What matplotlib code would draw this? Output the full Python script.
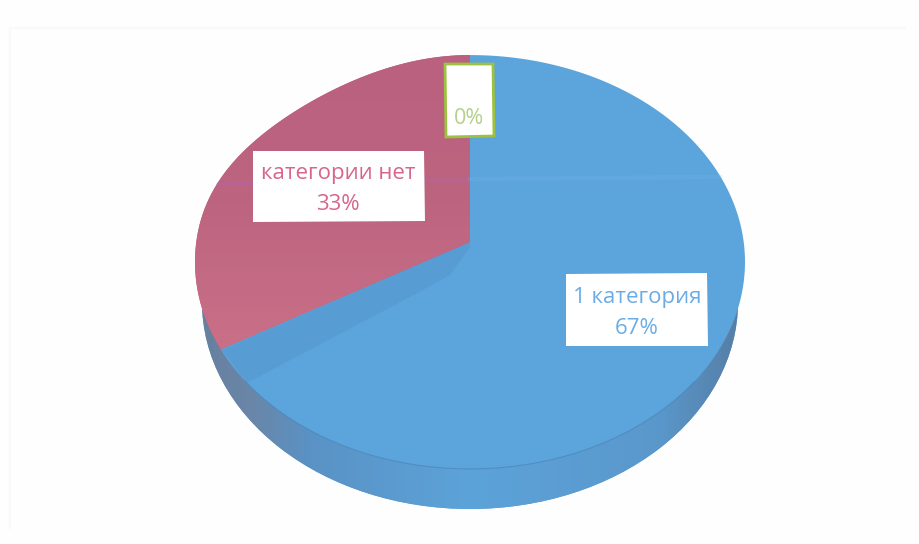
#!/usr/bin/env python3
import numpy as np
import matplotlib
matplotlib.use("Agg")
from matplotlib import pyplot as plt
from matplotlib.colors import LinearSegmentedColormap
from matplotlib.patches import Ellipse, Polygon

categories = ["1 категория", "категории нет", ""]
values = [66.7, 33.3, 0]
percent_labels = ["67%", "33%", "0%"]
face_colors = ["#5ca5dc", "#bd6480", "#8fbc5a"]
text_colors = ["#6aade6", "#d6668c", "#b5cf8c"]

# pixel position of the pie centre and the perspective of the disc
CX, CY = 470, 242
K, A, C = 273.7, 205.0, 0.0966


def to_xy(theta):
    # theta in radians, clockwise from 12 o'clock, through a simple homography
    u, v = np.sin(theta), np.cos(theta)
    w = 1 + C * v
    # the scan flattens the upper left of the disc a little
    flat = np.where((u < 0) & (v > 0), 9 * (2 * u * v) ** 2, 0)
    return CX + K * u / w, CY - A * v / w + flat


def wedge(a0, a1):
    t = np.linspace(a0, a1, 300)
    x, y = to_xy(t)
    return np.r_[CX, x], np.r_[CY, y]


fig = plt.figure(figsize=(9.19, 5.44), dpi=100, facecolor="#fefefe")
ax = fig.add_axes([0, 0, 1, 1])
ax.set_xlim(0, 919)
ax.set_ylim(544, 0)
ax.axis("off")

# faint edge of the scanned page
ax.plot([10, 10, 905], [528, 28, 28], color="#f6fafa", lw=1.5, zorder=0)

# side of the disc, a second ellipse lower down with a gradient over it
side = Ellipse((470, 302), 536, 414, fc="#5a9bd0", lw=0, zorder=1)
ax.add_patch(side)
side_cmap = LinearSegmentedColormap.from_list(
    "side", [(0, "#66809f"), (0.09, "#6a86a8"), (0.2, "#5a92c5"), (0.5, "#5ca3d9"),
             (0.85, "#5a98cc"), (1, "#557fa6")])
im = ax.imshow(np.linspace(0, 1, 256)[None, :], extent=(202, 738, 515, 290), cmap=side_cmap,
               aspect="auto", zorder=1.2)
im.set_clip_path(side)
ax.set_xlim(0, 919)
ax.set_ylim(544, 0)

# top faces, the slices go clockwise from 12 o'clock
fractions = np.array(values) / sum(values)
ends = np.cumsum(fractions) * 2 * np.pi
starts = np.r_[0, ends[:-1]]
slices = []
for start, end, col in zip(starts, ends, face_colors):
    if end - start > 0:
        xs, ys = wedge(start, end)
        p = Polygon(np.c_[xs, ys], fc=col, lw=0, zorder=2)
        ax.add_patch(p)
        slices.append(p)

# the red slice gets lighter towards the viewer
red_cmap = LinearSegmentedColormap.from_list("red", ["#ba6180", "#bd6480", "#ca7088"])
im2 = ax.imshow(np.linspace(0, 1, 256)[:, None], extent=(190, 475, 355, 50), cmap=red_cmap,
                aspect="auto", zorder=2.1)
im2.set_clip_path(slices[1])
ax.set_xlim(0, 919)
ax.set_ylim(544, 0)

# shadow the raised slice throws on the blue one
ax.fill([222, 470, 470, 450, 423, 247], [350, 242, 247, 275, 290, 383],
        color="#4f8cc0", alpha=0.35, lw=0, zorder=3)

# rim line between top face and side
t = np.linspace(np.pi * 0.72, np.pi * 1.28, 100)
ax.plot(*to_xy(t), color="#4c86b8", lw=0.8, alpha=0.7, zorder=3)

# faint scan line
ax.plot([218, 468], [184, 180], color="#b065c0", lw=2, alpha=0.35, zorder=3)
ax.plot([470, 720], [179, 177], color="#78b8f0", lw=3, alpha=0.2, zorder=3)

# labels
font = ["Open Sans", "DejaVu Sans"]
ax.fill([566, 707, 708, 566], [274, 273, 346, 346], color="white", lw=0, zorder=4)
ax.text(637, 297, categories[0], ha="center", va="center",
        fontsize=16, color=text_colors[0], family=font, zorder=5)
ax.text(637, 329, percent_labels[0], ha="center", va="center",
        fontsize=16, color=text_colors[0], family=font, zorder=5)

ax.fill([253, 424, 425, 253], [151, 151, 221, 222], color="white", lw=0, zorder=4)
ax.text(338, 173, categories[1], ha="center", va="center",
        fontsize=16, color=text_colors[1], family=font, zorder=5)
ax.text(338, 205, percent_labels[1], ha="center", va="center",
        fontsize=16, color=text_colors[1], family=font, zorder=5)

ax.fill([445, 493, 494, 446, 445], [64, 64, 136, 137, 64], facecolor="white",
        edgecolor="#9cc23f", lw=2, zorder=4)
ax.text(469, 118, percent_labels[2], ha="center", va="center",
        fontsize=15.5, color=text_colors[2], family=font, zorder=5)

fig.savefig("out.png", dpi=100, facecolor=fig.get_facecolor())
